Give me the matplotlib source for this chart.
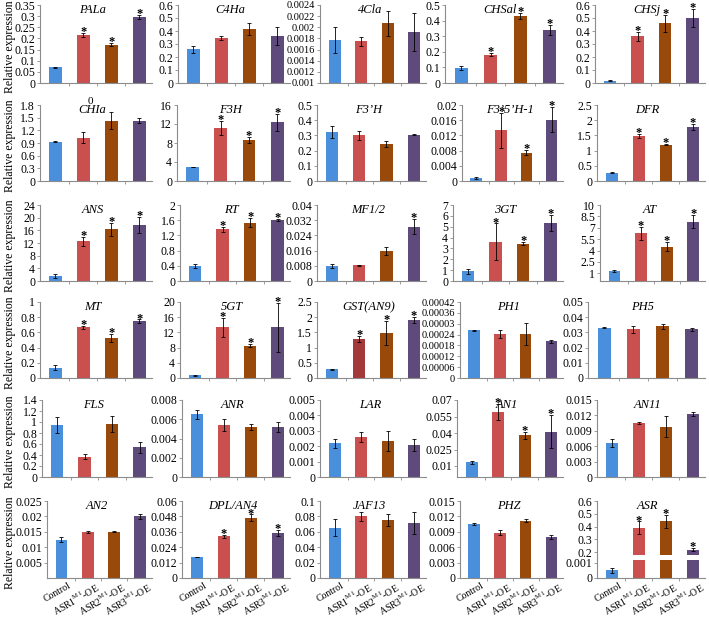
import numpy as np
import matplotlib.pyplot as plt
from matplotlib.transforms import ScaledTranslation

plt.rcParams['font.family'] = ['Liberation Serif', 'DejaVu Serif']
plt.rcParams['mathtext.fontset'] = 'custom'
plt.rcParams['mathtext.rm'] = 'Liberation Serif'

# categories on x
lines = ['Control', r'ASR1$^{\rm M1}$-OE', r'ASR2$^{\rm M1}$-OE', r'ASR3$^{\rm M1}$-OE']
colors = ['#4a8fdc', '#c9504f', '#994a0b', '#5f4a7c']

genes = ['PALa', 'C4Ha', '4Cla', 'CHSal', 'CHSj',
         'CHIa', 'F3H', 'F3\u2019H', 'F3\u20195\u2019H-1', 'DFR',
         'ANS', 'RT', 'MF1/2', '3GT', 'AT',
         'MT', '5GT', 'GST(AN9)', 'PH1', 'PH5',
         'FLS', 'ANR', 'LAR', 'AN1', 'AN11',
         'AN2', 'DPL/AN4', 'JAF13', 'PHZ', 'ASR']

means = [[0.07, 0.216, 0.172, 0.297], [0.26, 0.345, 0.415, 0.36], [0.00177, 0.00175, 0.00207, 0.00192],
         [0.096, 0.18, 0.43, 0.34], [0.018, 0.36, 0.46, 0.50],
         [0.93, 1.03, 1.43, 1.43], [2.9, 11.1, 8.7, 12.4], [0.32, 0.30, 0.245, 0.305],
         [0.0008, 0.0133, 0.0075, 0.0161], [0.27, 1.49, 1.2, 1.79],
         [1.5, 12.5, 16.3, 17.6], [0.39, 1.36, 1.53, 1.6], [0.008, 0.0083, 0.0158, 0.0285],
         [0.9, 3.6, 3.45, 5.35], [1.35, 6.3, 4.5, 7.8],
         [0.135, 0.665, 0.525, 0.75], [0.7, 13.4, 8.5, 13.3], [0.28, 1.27, 1.47, 1.92],
         [0.000263, 0.000245, 0.000242, 0.000203], [0.0331, 0.032, 0.034, 0.032],
         [0.95, 0.37, 0.96, 0.54], [0.0065, 0.0054, 0.0052, 0.0052], [0.0022, 0.0026, 0.00235, 0.0021],
         [0.0135, 0.059, 0.038, 0.041], [0.0067, 0.0106, 0.0098, 0.0122],
         [0.0124, 0.0149, 0.015, 0.02], [0.0163, 0.0324, 0.047, 0.035], [0.065, 0.08, 0.075, 0.071],
         [0.0105, 0.0088, 0.0112, 0.008], [0.0005, 0.39, 0.44, 0.22]]

errs = [[0.003, 0.01, 0.008, 0.008], [0.028, 0.015, 0.045, 0.07], [0.00024, 0.00008, 0.00022, 0.00034],
        [0.012, 0.01, 0.017, 0.03], [0.003, 0.035, 0.065, 0.07],
        [0.01, 0.12, 0.2, 0.06], [0.05, 1.5, 0.6, 1.8], [0.04, 0.03, 0.02, 0.005],
        [0.0002, 0.0045, 0.0006, 0.0033], [0.02, 0.07, 0.02, 0.1],
        [0.6, 1.3, 2.0, 2.5], [0.06, 0.07, 0.12, 0.03], [0.001, 0.0003, 0.0022, 0.004],
        [0.25, 1.7, 0.15, 0.7], [0.15, 0.85, 0.6, 0.85],
        [0.035, 0.02, 0.05, 0.02], [0.1, 2.5, 0.4, 6.4], [0.03, 0.1, 0.4, 0.1],
        [0.000003, 0.000022, 0.000062, 0.000008], [0.0003, 0.0025, 0.0015, 0.001],
        [0.15, 0.05, 0.15, 0.1], [0.0005, 0.0006, 0.0003, 0.0005], [0.0003, 0.0003, 0.00065, 0.0004],
        [0.0015, 0.007, 0.003, 0.015], [0.0008, 0.0002, 0.002, 0.0004],
        [0.0008, 0.0004, 0.0002, 0.0008], [0.0003, 0.0012, 0.0025, 0.0025], [0.011, 0.0055, 0.008, 0.0145],
        [0.0002, 0.0005, 0.0002, 0.0004], [0.00015, 0.05, 0.05, 0.012]]

# 1 = significant (asterisk)
stars = [[0, 1, 1, 1], [0, 0, 0, 0], [0, 0, 0, 0], [0, 1, 1, 1], [0, 1, 1, 1],
         [0, 0, 0, 0], [0, 1, 1, 1], [0, 0, 0, 0], [0, 1, 1, 1], [0, 1, 1, 1],
         [0, 1, 1, 1], [0, 1, 1, 1], [0, 0, 0, 1], [0, 1, 1, 1], [0, 1, 1, 1],
         [0, 1, 1, 1], [0, 1, 1, 1], [0, 1, 1, 1], [0, 0, 0, 0], [0, 0, 0, 0],
         [0, 0, 0, 0], [0, 0, 0, 0], [0, 0, 0, 0], [0, 1, 1, 1], [0, 0, 0, 0],
         [0, 0, 0, 0], [0, 1, 1, 1], [0, 0, 0, 0], [0, 0, 0, 0], [0, 1, 1, 1]]

# y axis: (ymin, ymax, first tick, step)
yaxis = [(0, 0.35, 0, 0.05), (0, 0.6, 0, 0.1), (0.001, 0.0024, 0.001, 0.0002), (0, 0.5, 0, 0.1), (0, 0.6, 0, 0.1),
         (0, 1.8, 0, 0.3), (0, 16, 0, 4), (0, 0.5, 0, 0.1), (0, 0.02, 0, 0.004), (0, 2.5, 0, 0.5),
         (0, 24, 0, 4), (0, 2, 0, 0.4), (0, 0.04, 0, 0.008), (0, 7, 0, 1), (0, 10, 1, 1.5),
         (0, 1, 0, 0.2), (0, 20, 0, 4), (0, 2.5, 0, 0.5), (0, 0.00042, 0, 0.00006), (0, 0.05, 0, 0.01),
         (0, 1.4, 0, 0.2), (0, 0.008, 0, 0.002), (0, 0.005, 0, 0.001), (0, 0.07, 0.01, 0.015), (0, 0.015, 0, 0.003),
         (0, 0.025, 0.005, 0.005), (0, 0.06, 0, 0.012), (0, 0.1, 0, 0.02), (0, 0.015, 0, 0.003), (0, 0.6, 0, 0.1)]

ph1_labels = ['0', '0.00006', '0.00012', '0.00018', '0.00024', '0.00003', '0.00036', '0.00042']
asr_ticks = [0, 0.001, 0.2, 0.3, 0.4, 0.5, 0.6]


def asr_fwd(v):
    v = np.asarray(v, dtype=float)
    return np.where(v <= 0.001, v * 45000,
                    np.where(v < 0.2, 45 + (v - 0.001) / 0.199 * 32, 77 + (v - 0.2) * 380))


def asr_inv(u):
    u = np.asarray(u, dtype=float)
    return np.where(u <= 45, u / 45000,
                    np.where(u < 77, 0.001 + (u - 45) / 32 * 0.199, 0.2 + (u - 77) / 380))


W, H = 709, 618
fig = plt.figure(figsize=(W / 100, H / 100), dpi=100)

row_top = [5, 105, 205, 302, 400, 501]
row_bot = [83, 181, 281, 378, 477, 578]
lefts = [[40, 178, 320, 445, 595], [40, 177, 317, 462, 597], [40, 180, 317, 453, 600],
         [40, 180, 317, 460, 588], [42, 182, 320, 457, 597], [47, 182, 320, 460, 597]]
rights = [152, 290, 426, 563, 705]
grey = '#8c8c8c'
x = np.arange(4)

for i, g in enumerate(genes):
    r, c = divmod(i, 5)
    L, R = lefts[r][c], rights[c]
    ax = fig.add_axes([L / W, 1 - row_bot[r] / H, (R - L) / W, (row_bot[r] - row_top[r]) / H])
    m = np.array(means[i])
    e = np.array(errs[i])
    ymin, ymax, t0, step = yaxis[i]

    cols = list(colors)
    if g == 'GST(AN9)':
        cols[1] = '#a3393a'
    if g == 'ASR':
        ax.set_yscale('function', functions=(asr_fwd, asr_inv))
    ax.bar(x, m - ymin, bottom=ymin, width=0.45, color=cols, zorder=2)
    ax.errorbar(x, m, yerr=e, fmt='none', ecolor='black', elinewidth=0.6,
                capsize=1.5, capthick=0.6, zorder=4)
    if g == 'ASR':
        big = m > 0.15
        ax.bar(x[big], 0.095, bottom=0.05, width=0.6, color='white', zorder=3)

    for k in range(4):
        if stars[i][k]:
            ax.annotate('*', (x[k], m[k] + e[k]), xytext=(0, -1.5), textcoords='offset points',
                        ha='center', va='baseline', fontsize=9, fontweight='bold', zorder=5)

    ax.set_xlim(-0.55, 3.45)
    ax.set_ylim(ymin, ymax)
    if g == 'ASR':
        ticks = asr_ticks
        labels = [np.format_float_positional(t, trim='-') for t in ticks]
    else:
        ticks = np.round(np.arange(t0, ymax + step / 2, step), 6)
        labels = [np.format_float_positional(t, trim='-') for t in ticks]
        if g == 'PH1':
            labels = ph1_labels
    ax.set_yticks(ticks)
    ax.set_yticklabels(labels)
    ax.yaxis.set_minor_locator(plt.NullLocator())

    for s in ['top', 'right']:
        ax.spines[s].set_visible(False)
    for s in ['left', 'bottom']:
        ax.spines[s].set_color(grey)
        ax.spines[s].set_linewidth(0.8)
    fs = 8.5
    if g in ('4Cla', 'PH1'):
        fs = 7.5
    ax.tick_params(axis='y', length=2.5, width=0.6, color=grey, pad=1, labelsize=fs)
    ax.set_xticks(x)
    ax.set_xticks([0.5, 1.5, 2.5], minor=True)
    ax.tick_params(axis='x', which='major', length=0, pad=2)
    ax.tick_params(axis='x', which='minor', length=2.5, width=0.6, color=grey)
    if r == 5:
        ax.set_xticklabels(lines, rotation=30, ha='right', rotation_mode='anchor', fontsize=7)
        shift = ScaledTranslation(7 / 100, 0, fig.dpi_scale_trans)
        for lab in ax.get_xticklabels():
            lab.set_transform(lab.get_transform() + shift)
    else:
        ax.set_xticklabels([])

    ax.text(0.47, 0.93, g, transform=ax.transAxes, ha='center', va='center',
            style='italic', fontsize=9)
    if g == 'CHIa':
        ax.text(0.45, 1.04, '0', transform=ax.transAxes, ha='center', va='center', fontsize=8)

for r in range(6):
    yc = (row_top[r] + row_bot[r]) / 2 + 3
    fig.text(10 / W, 1 - yc / H, 'Relative expression', rotation=90,
             ha='center', va='center', fontsize=8.5)

fig.savefig('out.png', dpi=100)
